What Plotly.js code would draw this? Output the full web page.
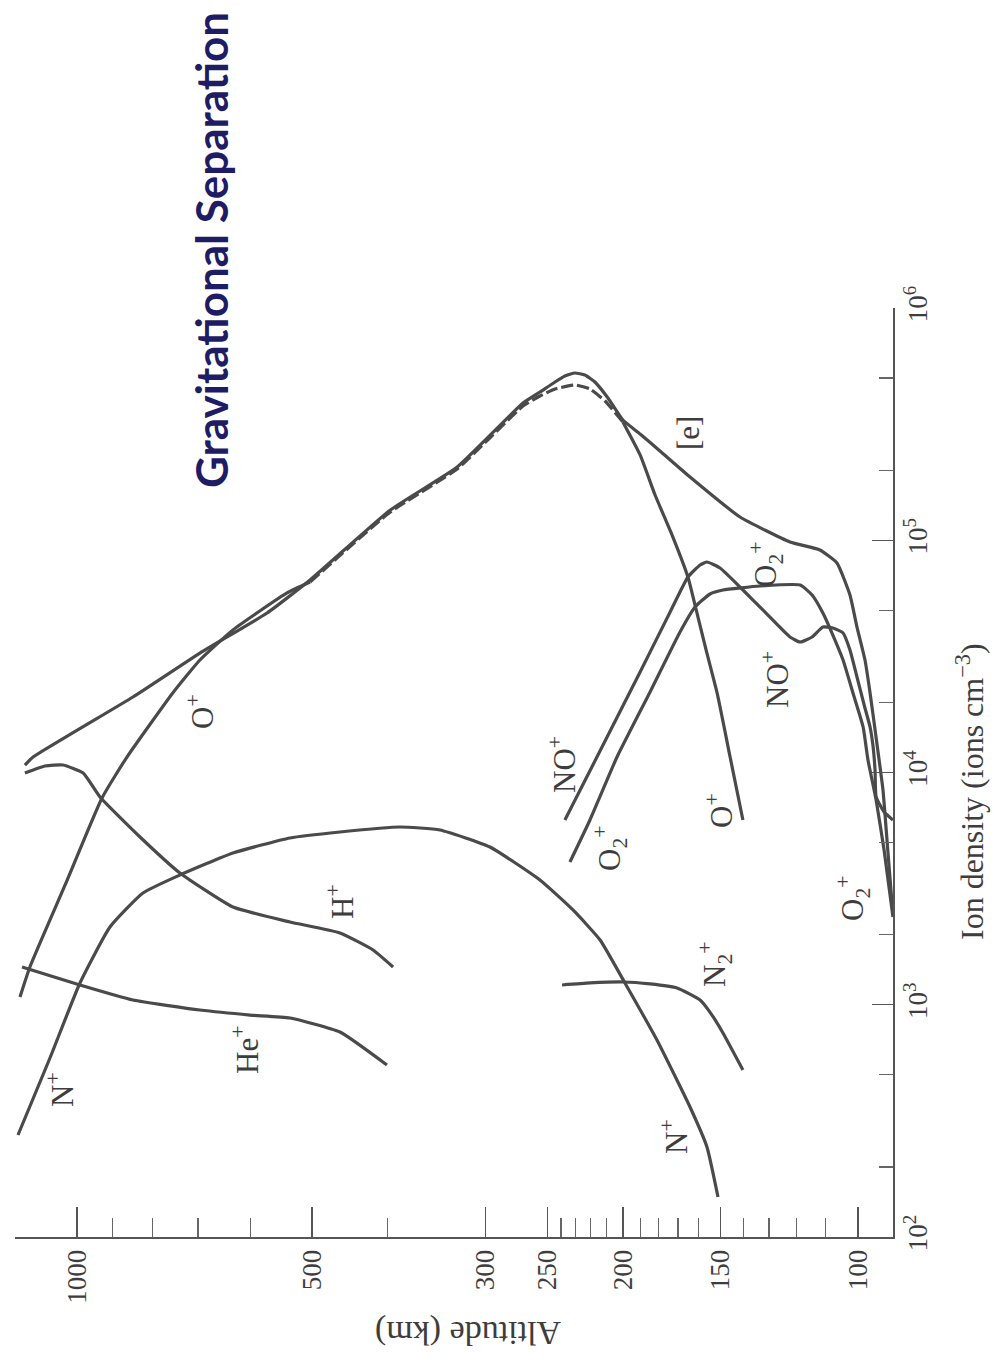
<!DOCTYPE html>
<html>
<head>
<meta charset="utf-8">
<script src="https://cdn.plot.ly/plotly-3.0.1.min.js"></script>
<style>
  html, body { margin: 0; padding: 0; background: #ffffff; }
  #chart { width: 994px; height: 1367px; }
</style>
</head>
<body>
<div id="chart"></div>
<script>
// Ionospheric ion composition: altitude (km) vs ion density (ions cm^-3).
// The figure is drawn turned on its side: altitude runs right-to-left along
// the bottom, ion density runs upward along the right-hand axis.

// ---- electron density [e]
const eAlt  = [1166, 1138, 848, 696, 571, 503, 397, 326, 268.5, 255.4, 244.3, 237.3, 230.4, 223.7, 217.2, 209.0, 200, 190.1, 179.3, 164.1, 141.6, 122.2, 111.9, 106.4, 102.4, 100.3, 97.96, 96.5, 94.6, 92.9, 91.6, 90.2];
const eDens = [1.077e4, 1.166e4, 2.114e4, 3.269e4, 4.862e4, 6.745e4, 1.350e5, 2.067e5, 3.899e5, 4.348e5, 4.802e5, 5.095e5, 5.249e5, 5.146e5, 4.802e5, 4.097e5, 3.293e5, 2.868e5, 2.423e5, 1.872e5, 1.259e5, 9.83e4, 9.08e4, 7.98e4, 5.81e4, 4.23e4, 3.05e4, 2.20e4, 1.34e4, 8.41e3, 4.64e3, 2.43e3];

// ---- O+ (dashed where it runs along [e] through the F2 peak)
const oAlt  = [1183, 1149, 1033, 929, 863, 754, 696, 631.4, 538.4, 503, 397, 326, 268.5, 255.4, 244.3, 230.4, 220.4, 210.8, 200, 190.1, 181.9, 173.0, 165.1, 161.7, 156.5, 151.5, 145.8, 140.4];
const oDens = [1080, 1454, 3344, 7767, 1.166e4, 2.20e4, 3.05e4, 4.11e4, 5.93e4, 6.61e4, 1.323e5, 2.027e5, 3.784e5, 4.179e5, 4.479e5, 4.662e5, 4.479e5, 3.977e5, 3.229e5, 2.329e5, 1.566e5, 1.053e5, 6.945e4, 5.264e4, 3.369e4, 2.20e4, 1.166e4, 6245];
const oDashFrom = 9, oDashTo = 18;

// ---- H+
const hAlt  = [1166, 1099, 1042, 982, 934.5, 830.5, 738.3, 631.4, 533.7, 460.6, 417.8, 393.8];
const hDens = [9950, 1.067e4, 1.077e4, 9950, 7844, 5276, 3692, 2636, 2271, 2037, 1721, 1454];

// ---- He+
const heAlt  = [1176, 991.3, 848, 696, 600.4, 533.7, 460.6, 401.0];
const heDens = [1454, 1216, 1048, 949, 903, 877, 763, 550];

// ---- N+
const nAlt  = [1190, 1083, 991.3, 907.4, 823.3, 738.3, 631.4, 533.7, 460.6, 385.8, 343.0, 296.0, 255.4, 231.7, 213.9, 198.8, 180.9, 164.1, 156.1, 151.1];
const nDens = [274.9, 589.8, 1241, 2161, 3028, 3620, 4502, 5224, 5543, 5826, 5655, 4777, 3444, 2559, 1900, 1241, 705, 362.8, 244.1, 148.7];

// ---- N2+
const n2Alt  = [239.3, 220.4, 200, 184.6, 170.5, 159.3, 153.8, 148.9, 140.4];
const n2Dens = [1216, 1241, 1253, 1229, 1181, 1048, 903, 755.6, 523.7];

// ---- NO+
const noAlt  = [237.3, 215.9, 190.1, 174.0, 165.1, 159.3, 156.1, 150.2, 141.6, 131.6, 122.2, 118.6, 114.5, 110.9, 107.7, 104.5, 102.4, 100.3, 98.2, 96.5, 95.7, 95.1, 94.8, 92.6, 90.2];
const noDens = [6245, 1.166e4, 2.708e4, 4.911e4, 6.945e4, 7.824e4, 8.061e4, 7.595e4, 6.290e4, 4.911e4, 3.831e4, 3.646e4, 3.831e4, 4.23e4, 4.190e4, 3.988e4, 3.369e4, 2.578e4, 1.953e4, 1.570e4, 1.313e4, 1.025e4, 7844, 6760, 6245];

// ---- O2+
const o2Alt  = [233.8, 220.4, 203.5, 184.6, 169.0, 161.7, 154.7, 148.9, 133.5, 118.6, 114.5, 110.9, 107.7, 104.5, 101.5, 98.5, 97.1, 94.8, 92.6, 90.2];
const o2Dens = [4118, 6245, 1.166e4, 2.222e4, 4.027e4, 5.159e4, 5.870e4, 6.108e4, 6.353e4, 6.416e4, 5.811e4, 4.86e4, 3.908e4, 3.05e4, 2.20e4, 1.570e4, 1.132e4, 7614, 4640, 2387];

// ---- axis ticks
const altMajor = [1000, 500, 300, 250, 200, 150, 100];
const altMajorText = ['1000', '500', '300', '250', '200', '150', '100'];
const altMinor = [1200, 900, 800, 700, 600, 400, 240, 230, 220, 210, 190, 180, 170, 160, 140, 130, 120, 110];
const densMajor = [1e2, 1e3, 1e4, 1e5, 1e6];
const densMajorText = ['10<sup>2</sup>', '10<sup>3</sup>', '10<sup>4</sup>', '10<sup>5</sup>', '10<sup>6</sup>'];
const densMinor = [200, 500, 2000, 5000, 2e4, 5e4, 2e5, 5e5];

// ---- styling
const INK = '#4a4a4a';
const TEXT = '#3d3d3d';
const SERIF = 'Liberation Serif, Times New Roman, serif';
const LW = 3.2;

function curve(alt, dens, dash) {
  return {
    type: 'scatter', mode: 'lines',
    x: alt, y: dens,
    line: { color: INK, width: LW, dash: dash || 'solid', shape: 'spline', smoothing: 0.45 },
    hoverinfo: 'skip', showlegend: false
  };
}

const traces = [
  curve(eAlt, eDens),
  curve(oAlt.slice(0, oDashFrom + 1), oDens.slice(0, oDashFrom + 1)),
  curve(oAlt.slice(oDashFrom, oDashTo + 1), oDens.slice(oDashFrom, oDashTo + 1), '12px,4px'),
  curve(oAlt.slice(oDashTo), oDens.slice(oDashTo)),
  curve(hAlt, hDens),
  curve(heAlt, heDens),
  curve(nAlt, nDens),
  curve(n2Alt, n2Dens),
  curve(noAlt, noDens),
  curve(o2Alt, o2Dens)
];

// plot-area geometry (pixels) used for placing text in paper coordinates
const W = 994, H = 1367;
const M = { l: 15, r: 101, t: 308, b: 130 };
const PW = W - M.l - M.r, PH = H - M.t - M.b;
function paper(px, py) { return { x: (px - M.l) / PW, y: (H - M.b - py) / PH }; }

function label(text, px, py, opts) {
  const p = paper(px, py);
  return Object.assign({
    xref: 'paper', yref: 'paper', x: p.x, y: p.y,
    text: text, showarrow: false, textangle: -90,
    xanchor: 'center', yanchor: 'middle',
    font: { family: SERIF, size: 31, color: TEXT }
  }, opts || {});
}

const annotations = [
  label('<b>Gravitational Separation</b>', 211, 250, { font: { family: 'Lato, Open Sans, sans-serif', size: 44, color: '#1f1c66' } }),
  label('Altitude (km)', 468, 1333, { textangle: 180, font: { family: SERIF, size: 34, color: TEXT } }),
  label('Ion density (ions cm<sup>\u22123</sup>)', 970, 792, { font: { family: SERIF, size: 32, color: TEXT } }),
  label('N<sup>+</sup>', 60, 1090),
  label('He<sup>+</sup>', 245, 1050),
  label('H<sup>+</sup>', 340, 902),
  label('O<sup>+</sup>', 200, 712),
  label('N<sup>+</sup>', 674, 1137),
  label('N<sub>2</sub><sup>+</sup>', 715, 965),
  label('O<sub>2</sub><sup>+</sup>', 610, 849),
  label('NO<sup>+</sup>', 562, 765),
  label('O<sup>+</sup>', 719, 811),
  label('O<sub>2</sub><sup>+</sup>', 853, 899),
  label('NO<sup>+</sup>', 775, 680),
  label('O<sub>2</sub><sup>+</sup>', 766, 565),
  label('[e]', 688, 433)
];

const layout = {
  width: W, height: H,
  margin: M,
  paper_bgcolor: '#ffffff', plot_bgcolor: '#ffffff',
  showlegend: false,
  xaxis: {
    type: 'log',
    range: [2 + (858 - 15) / 781, 2 + (858 - 893) / 781],
    showline: true, linecolor: '#555555', linewidth: 2, mirror: false,
    showgrid: false, zeroline: false,
    ticks: 'inside', ticklen: 30, tickwidth: 1.4, tickcolor: '#555555',
    tickmode: 'array', tickvals: altMajor, ticktext: altMajorText,
    tickangle: -90,
    tickfont: { family: SERIF, size: 27, color: TEXT },
    minor: { tickmode: 'array', tickvals: altMinor, ticks: 'inside', ticklen: 19, tickwidth: 1.2, tickcolor: '#666666', showgrid: false }
  },
  yaxis: {
    type: 'log', side: 'right',
    range: [2, 6],
    showline: true, linecolor: '#555555', linewidth: 2, mirror: false,
    showgrid: false, zeroline: false,
    ticks: 'inside', ticklen: 21, tickwidth: 1.4, tickcolor: '#555555',
    tickmode: 'array', tickvals: densMajor, ticktext: densMajorText,
    tickangle: -90,
    tickfont: { family: SERIF, size: 27, color: TEXT },
    minor: { tickmode: 'array', tickvals: densMinor, ticks: 'inside', ticklen: 14, tickwidth: 1.2, tickcolor: '#666666', showgrid: false }
  },
  annotations: annotations
};

Plotly.newPlot('chart', traces, layout, { displayModeBar: false, staticPlot: true });
</script>
</body>
</html>
